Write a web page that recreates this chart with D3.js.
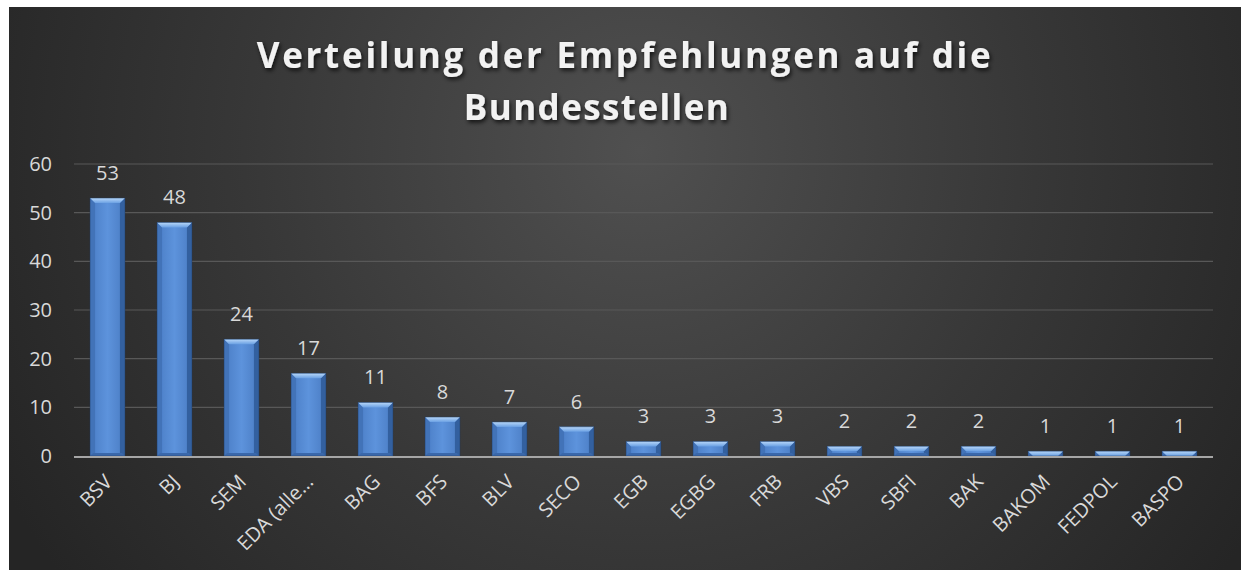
<!DOCTYPE html>
<html>
<head>
<meta charset="utf-8">
<script src="https://cdn.jsdelivr.net/npm/d3@7"></script>
<style>
  body { margin: 0; background: #fff; }
  text { font-family: "Open Sans", "DejaVu Sans", sans-serif; }
</style>
</head>
<body>
<div id="chart"></div>
<script>
'use strict';
// data
var categories = ["BSV", "BJ", "SEM", "EDA (alle\u2026", "BAG", "BFS", "BLV", "SECO", "EGB", "EGBG", "FRB", "VBS", "SBFI", "BAK", "BAKOM", "FEDPOL", "BASPO"];
var values = [53, 48, 24, 17, 11, 8, 7, 6, 3, 3, 3, 2, 2, 2, 1, 1, 1];
var yTicks = [0, 10, 20, 30, 40, 50, 60];
var titleLines = ["Verteilung der Empfehlungen auf die", "Bundesstellen"];

var W = 1241, H = 570;
var plot = { left: 74, right: 1213, top: 164, bottom: 456 };

var svg = d3.select("#chart").append("svg")
    .attr("width", W)
    .attr("height", H);

var defs = svg.append("defs");

// background gradient
var bg = defs.append("radialGradient")
    .attr("id", "bg")
    .attr("gradientUnits", "userSpaceOnUse")
    .attr("cx", 640).attr("cy", 150).attr("r", 720);
bg.append("stop").attr("offset", "0").attr("stop-color", "#505050");
bg.append("stop").attr("offset", "0.55").attr("stop-color", "#373737");
bg.append("stop").attr("offset", "1").attr("stop-color", "#252525");

// bar face
var face = defs.append("linearGradient").attr("id", "face")
    .attr("x1", 0).attr("x2", 1).attr("y1", 0).attr("y2", 0);
face.append("stop").attr("offset", "0").attr("stop-color", "#4a7dc5");
face.append("stop").attr("offset", "0.5").attr("stop-color", "#5d93dc");
face.append("stop").attr("offset", "1").attr("stop-color", "#4a7cc3");

var topBevel = defs.append("linearGradient").attr("id", "topBevel")
    .attr("x1", 0).attr("x2", 0).attr("y1", 0).attr("y2", 1);
topBevel.append("stop").attr("offset", "0").attr("stop-color", "#b9d8f9");
topBevel.append("stop").attr("offset", "1").attr("stop-color", "#6aa0e3");

var shadow = defs.append("filter").attr("id", "tshadow")
    .attr("x", "-10%").attr("y", "-30%").attr("width", "120%").attr("height", "160%");
shadow.append("feDropShadow")
    .attr("dx", 1.5).attr("dy", 2.5).attr("stdDeviation", 2)
    .attr("flood-color", "#000").attr("flood-opacity", 0.75);

svg.append("rect")
    .attr("x", 9).attr("y", 7)
    .attr("width", W - 9).attr("height", H - 7)
    .attr("fill", "url(#bg)");

// title
svg.append("g").selectAll("text")
    .data(titleLines)
    .enter().append("text")
    .attr("x", function (d, i) { return i === 0 ? 625 : 597; })
    .attr("y", function (d, i) { return 68 + i * 52; })
    .attr("text-anchor", "middle")
    .attr("fill", "#f2f2f2")
    .attr("font-size", 35)
    .attr("font-weight", "bold")
    .attr("letter-spacing", function (d, i) { return i === 0 ? 2.7 : 1.4; })
    .attr("filter", "url(#tshadow)")
    .text(function (d) { return d; });

var x = d3.scaleBand()
    .domain(categories)
    .range([plot.left, plot.right])
    .paddingInner(0.48)
    .paddingOuter(0.24);

var y = d3.scaleLinear()
    .domain([0, 60])
    .range([plot.bottom, plot.top]);

// gridlines
svg.append("g").selectAll("line")
    .data(yTicks.filter(function (d) { return d > 0; }))
    .enter().append("line")
    .attr("x1", plot.left).attr("x2", plot.right)
    .attr("y1", function (d) { return y(d); })
    .attr("y2", function (d) { return y(d); })
    .attr("stroke", "#585858")
    .attr("stroke-width", 1.2);

// y axis labels
var yAxis = svg.append("g")
    .attr("transform", "translate(" + (plot.left - 22) + ",0)")
    .call(d3.axisLeft(y).tickValues(yTicks).tickSize(0).tickPadding(0));
yAxis.select(".domain").remove();
yAxis.selectAll("text")
    .attr("fill", "#d9d9d9")
    .attr("font-size", 20)
    .style("font-family", "'Open Sans', sans-serif");

// bars with bevel
var bw = x.bandwidth();
var bars = svg.append("g").selectAll("g")
    .data(values)
    .enter().append("g")
    .attr("transform", function (d, i) { return "translate(" + x(categories[i]) + ",0)"; });

bars.append("rect")
    .attr("x", 0)
    .attr("y", function (d) { return y(d); })
    .attr("width", bw)
    .attr("height", function (d) { return y(0) - y(d); })
    .attr("fill", "url(#face)");

function bev(d) { return Math.min(5, (y(0) - y(d))); }

// left and right side bevels
bars.append("path")
    .attr("d", function (d) {
        var t = y(d), b = y(0), e = bev(d);
        return "M0," + t + "L" + e + "," + (t + e) + "L" + e + "," + (b - Math.min(e, 3)) + "L0," + b + "Z";
    })
    .attr("fill", "#4273b8");
bars.append("path")
    .attr("d", function (d) {
        var t = y(d), b = y(0), e = bev(d);
        return "M" + bw + "," + t + "L" + (bw - e) + "," + (t + e) + "L" + (bw - e) + "," + (b - Math.min(e, 3)) + "L" + bw + "," + b + "Z";
    })
    .attr("fill", "#33609f");
// bottom bevel
bars.append("path")
    .attr("d", function (d) {
        var b = y(0), e = Math.min(3, bev(d));
        return "M0," + b + "L" + e + "," + (b - e) + "L" + (bw - e) + "," + (b - e) + "L" + bw + "," + b + "Z";
    })
    .attr("fill", "#3a68ab");
// top bevel
bars.append("path")
    .attr("d", function (d) {
        var t = y(d), e = bev(d);
        return "M0," + t + "L" + bw + "," + t + "L" + (bw - e) + "," + (t + e) + "L" + e + "," + (t + e) + "Z";
    })
    .attr("fill", "url(#topBevel)");
bars.append("rect")
    .attr("x", 0)
    .attr("y", function (d) { return y(d); })
    .attr("width", bw)
    .attr("height", function (d) { return y(0) - y(d); })
    .attr("fill", "none")
    .attr("stroke", "#1f3d66")
    .attr("stroke-opacity", 0.6)
    .attr("stroke-width", 0.8);

// value labels
bars.append("text")
    .attr("x", bw / 2)
    .attr("y", function (d) { return y(d) - 18; })
    .attr("text-anchor", "middle")
    .attr("fill", "#d9d9d9")
    .attr("font-size", 20)
    .text(function (d) { return d; });

// x axis line
svg.append("line")
    .attr("x1", plot.left).attr("x2", plot.right)
    .attr("y1", y(0) + 1).attr("y2", y(0) + 1)
    .attr("stroke", "#a6a6a6")
    .attr("stroke-width", 2);

// category labels
var xAxis = svg.append("g")
    .attr("transform", "translate(0," + (plot.bottom + 22) + ")")
    .call(d3.axisBottom(x).tickSize(0).tickPadding(0));
xAxis.select(".domain").remove();
xAxis.selectAll("text")
    .attr("fill", "#d9d9d9")
    .attr("font-size", 20)
    .style("font-family", "'Open Sans', sans-serif")
    .attr("text-anchor", "end")
    .attr("y", 0)
    .attr("dy", "0.35em")
    .attr("transform", "translate(1,0) rotate(-45)");
</script>
</body>
</html>
